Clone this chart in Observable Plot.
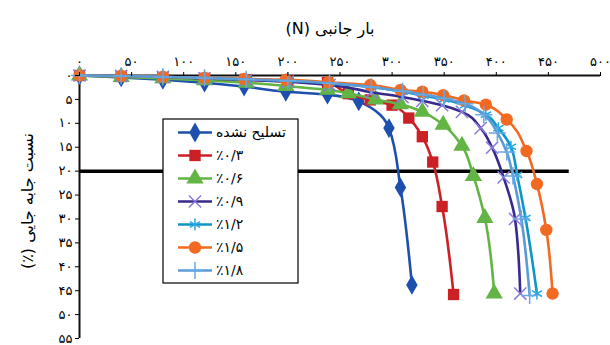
<!DOCTYPE html>
<html><head><meta charset="utf-8">
<script src="https://cdn.jsdelivr.net/npm/d3@7"></script>
<script src="https://cdn.jsdelivr.net/npm/@observablehq/plot@0.6"></script>
<style>body{margin:0;background:#fff} svg{display:block}</style>
</head><body><div id="chart"></div>
<script>
// ---- data ----
const seriesNames = ["تسلیح نشده", "٪۰/۳", "٪۰/۶", "٪۰/۹", "٪۱/۲", "٪۱/۵", "٪۱/۸"];
const load0 = [0, 40, 80, 120, 158, 198, 238, 268, 297, 308, 319];
const disp0 = [0, 0.4, 0.9, 1.5, 2.3, 3.4, 4.0, 5.4, 11.0, 23.4, 43.8];
const load1 = [0, 40, 80, 120, 160, 200, 238, 258, 279, 300, 316, 329, 339, 348, 359];
const disp1 = [0, 0.2, 0.4, 0.6, 0.9, 1.2, 1.5, 3.8, 5.1, 6.2, 8.9, 12.8, 18.1, 27.4, 45.8];
const load2 = [0, 40, 80, 120, 160, 198, 238, 258, 284, 308, 329, 349, 367, 378, 389, 398];
const disp2 = [0, 0.3, 0.6, 1.0, 1.5, 2.2, 3.0, 3.7, 5.0, 6.0, 7.6, 10.3, 14.7, 21.0, 29.8, 45.6];
const load3 = [0, 40, 80, 120, 160, 200, 240, 280, 310, 329, 348, 367, 385, 396, 407, 418, 423];
const disp3 = [0, 0.1, 0.3, 0.6, 0.9, 1.3, 2.0, 3.5, 4.5, 5.3, 6.2, 7.6, 11.0, 15.1, 21.3, 30.0, 45.6];
const load4 = [0, 40, 80, 120, 160, 200, 240, 280, 310, 330, 350, 370, 390, 402, 414, 420, 428, 439];
const disp4 = [0, 0.1, 0.3, 0.5, 0.8, 1.1, 1.6, 2.4, 3.4, 4.2, 5.0, 6.2, 8.2, 11.0, 14.9, 20.8, 29.8, 45.6];
const load5 = [0, 40, 80, 120, 158, 198, 239, 279, 308, 329, 349, 369, 390, 410, 429, 439, 448, 454];
const disp5 = [0, 0.1, 0.3, 0.5, 0.7, 0.9, 1.4, 2.0, 3.0, 3.4, 4.1, 5.2, 6.1, 9.2, 15.8, 22.7, 32.3, 45.6];
const load6 = [0, 40, 80, 120, 160, 200, 240, 280, 310, 330, 350, 370, 388, 401, 410, 416, 424, 432];
const disp6 = [0, 0.1, 0.3, 0.5, 0.8, 1.1, 1.6, 2.4, 3.3, 4.0, 4.8, 5.9, 8.2, 12.0, 16.0, 21.0, 30.0, 46.0];
const loads = [load0, load1, load2, load3, load4, load5, load6];
const disps = [disp0, disp1, disp2, disp3, disp4, disp5, disp6];

const xTicks = [0, 50, 100, 150, 200, 250, 300, 350, 400, 450, 500];
const xTickLabels = ["۰", "۵۰", "۱۰۰", "۱۵۰", "۲۰۰", "۲۵۰", "۳۰۰", "۳۵۰", "۴۰۰", "۴۵۰", "۵۰۰"];
const yTicks = [0, 5, 10, 15, 20, 25, 30, 35, 40, 45, 50, 55];
const yTickLabels = ["۰", "۵", "۱۰", "۱۵", "۲۰", "۲۵", "۳۰", "۳۵", "۴۰", "۴۵", "۵۰", "۵۵"];
const xTitle = "(N) بار جانبی";
const yTitle = "(٪) نسبت جابه جایی";
const limitDisp = [20];
const limitLoadEnd = 470;

// ---- styles ----
const lineColors = ["#1d4fae", "#cc2027", "#62b444", "#372a8c", "#0f95c8", "#f26a21", "#5b9bd5"];
const markColors = ["#1d4fae", "#cc2027", "#62b444", "#8a7bdc", "#27aae2", "#f26a21", "#6aa8e2"];
const symbols = ["diamond", "square", "triangle", "times", "asterisk", "circle", "plus"];
const filled = [true, true, true, false, false, true, false];
const radii = [6, 6.4, 6.4, 5.6, 5.6, 6.2, 5.6];
const fontFamily = "'DejaVu Sans', sans-serif";

const rows = seriesNames.map((s, i) => loads[i].map((n, j) => ({series: s, load: n, disp: disps[i][j]})));

const marks = [
  Plot.ruleY([0], {stroke: "#111", strokeWidth: 2}),
  Plot.ruleX([0], {stroke: "#111", strokeWidth: 2}),
  Plot.ruleY(limitDisp, {x1: 0, x2: limitLoadEnd, stroke: "#000", strokeWidth: 3.5})
];
rows.forEach((r, i) => {
  marks.push(Plot.line(r, {x: "load", y: "disp", stroke: lineColors[i], strokeWidth: 2.6, curve: "monotone-y"}));
  marks.push(Plot.dot(r, {
    x: "load", y: "disp", symbol: symbols[i], r: radii[i],
    fill: filled[i] ? markColors[i] : "none",
    stroke: filled[i] ? "none" : markColors[i],
    strokeWidth: 1.5
  }));
});
marks.push(Plot.axisX({anchor: "top", ticks: xTicks, tickFormat: d => xTickLabels[xTicks.indexOf(d)], tickSize: 4, tickPadding: 6, label: null}));
marks.push(Plot.axisY({anchor: "left", ticks: yTicks, tickFormat: d => yTickLabels[yTicks.indexOf(d)], tickSize: 4, tickPadding: 3, label: null}));
marks.push(Plot.text([xTitle], {frameAnchor: "top", textAnchor: "middle", dy: -53, dx: -10, fontSize: 16}));
marks.push(Plot.text([yTitle], {frameAnchor: "left", textAnchor: "middle", dx: -52, dy: -6, rotate: -90, fontSize: 16}));

const chart = Plot.plot({
  width: 610, height: 345,
  marginTop: 75, marginLeft: 79, marginRight: 10, marginBottom: 7,
  style: {fontFamily, fontSize: "13px", background: "#fff", color: "#000"},
  x: {domain: [0, 500]},
  y: {domain: [0, 55], reverse: true},
  marks
});
document.getElementById("chart").appendChild(chart);

// ---- legend ----
const svg = d3.select(chart);
const lg = svg.append("g").attr("font-family", fontFamily);
lg.append("rect").attr("x", 163).attr("y", 119).attr("width", 135).attr("height", 164)
  .attr("fill", "#fff").attr("stroke", "#000").attr("stroke-width", 1.2);
const symMap = {diamond: d3.symbolDiamond, square: d3.symbolSquare, triangle: d3.symbolTriangle,
  times: d3.symbolTimes, asterisk: d3.symbolAsterisk, circle: d3.symbolCircle, plus: d3.symbolPlus};
seriesNames.forEach((s, i) => {
  const y = 132.5 + i * 23;
  lg.append("line").attr("x1", 178).attr("x2", 212).attr("y1", y).attr("y2", y)
    .attr("stroke", lineColors[i]).attr("stroke-width", 2.6);
  lg.append("path").attr("transform", `translate(195,${y})`)
    .attr("d", d3.symbol(symMap[symbols[i]], Math.PI * radii[i] * radii[i])())
    .attr("fill", filled[i] ? markColors[i] : "none")
    .attr("stroke", filled[i] ? "none" : markColors[i]).attr("stroke-width", 1.5);
  const t = lg.append("text").attr("x", 216).attr("y", y).attr("dy", "0.35em")
    .attr("font-size", 14).attr("fill", "#000").text(s);
  const bb = t.node().getBBox();
  t.attr("x", 216 + (216 - bb.x));
});
</script>
</body></html>
